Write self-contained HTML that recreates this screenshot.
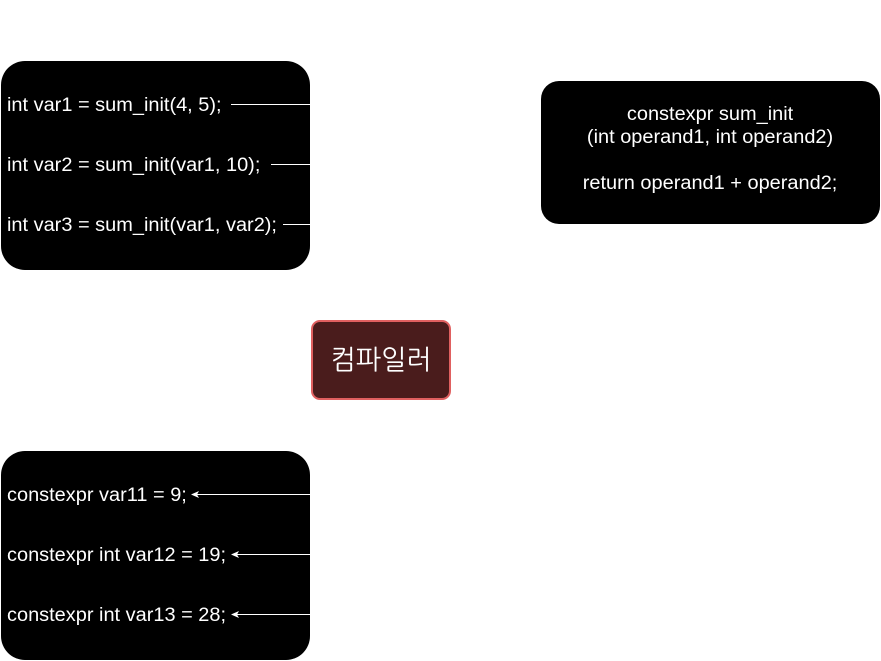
<!DOCTYPE html>
<html><head><meta charset="utf-8"><style>
body{margin:0;width:881px;height:661px;background:#fff;position:relative;overflow:hidden;font-family:"Liberation Sans",Arial,sans-serif;}
.b{position:absolute;background:#000;border-radius:24px;}
.t{position:absolute;color:#fff;font-size:19px;white-space:nowrap;line-height:22px;transform-origin:0 0;transform:scaleX(1.05);}
</style></head><body>
<div class="b" style="left:1px;top:61px;width:309px;height:209px"></div>
<div class="b" style="left:1px;top:451px;width:309px;height:209px"></div>
<div class="b" style="left:541px;top:81px;width:339px;height:143px;border-radius:18px"></div>
<div style="position:absolute;left:311px;top:320px;width:136px;height:76px;background:#4a1c1c;border:2px solid #e06060;border-radius:9px;color:#fff;font-size:27px;font-family:'Liberation Sans','NanumGothic','Noto Sans CJK KR',sans-serif;text-align:center;line-height:76px">컴파일러</div>
<div class="t" style="left:7px;top:95px">int var1 = sum_init(4, 5);</div>
<div class="t" style="left:7px;top:155px">int var2 = sum_init(var1, 10);</div>
<div class="t" style="left:7px;top:215px">int var3 = sum_init(var1, var2);</div>
<div class="t" style="left:7px;top:485px">constexpr var11 = 9;</div>
<div class="t" style="left:7px;top:545px">constexpr int var12 = 19;</div>
<div class="t" style="left:7px;top:605px">constexpr int var13 = 28;</div>
<div class="t" style="left:541px;width:322px;text-align:center;top:103px;line-height:23px">constexpr sum_init<br>(int operand1, int operand2)<br><br>return operand1 + operand2;</div>
<svg width="881" height="661" style="position:absolute;left:0;top:0">
<g stroke="#fff" stroke-width="1">
<line x1="231" y1="104.5" x2="310" y2="104.5"/>
<line x1="271" y1="164.5" x2="310" y2="164.5"/>
<line x1="283" y1="224.5" x2="310" y2="224.5"/>
<line x1="196" y1="494.5" x2="310" y2="494.5"/>
<line x1="236" y1="554.5" x2="310" y2="554.5"/>
<line x1="236" y1="614.5" x2="310" y2="614.5"/>
</g>
<g fill="#fff">
<polygon points="191,494.5 199,491 197,494.5 199,498"/>
<polygon points="231,554.5 239,551 237,554.5 239,558"/>
<polygon points="231,614.5 239,611 237,614.5 239,618"/>
</g>
</svg>
</body></html>
